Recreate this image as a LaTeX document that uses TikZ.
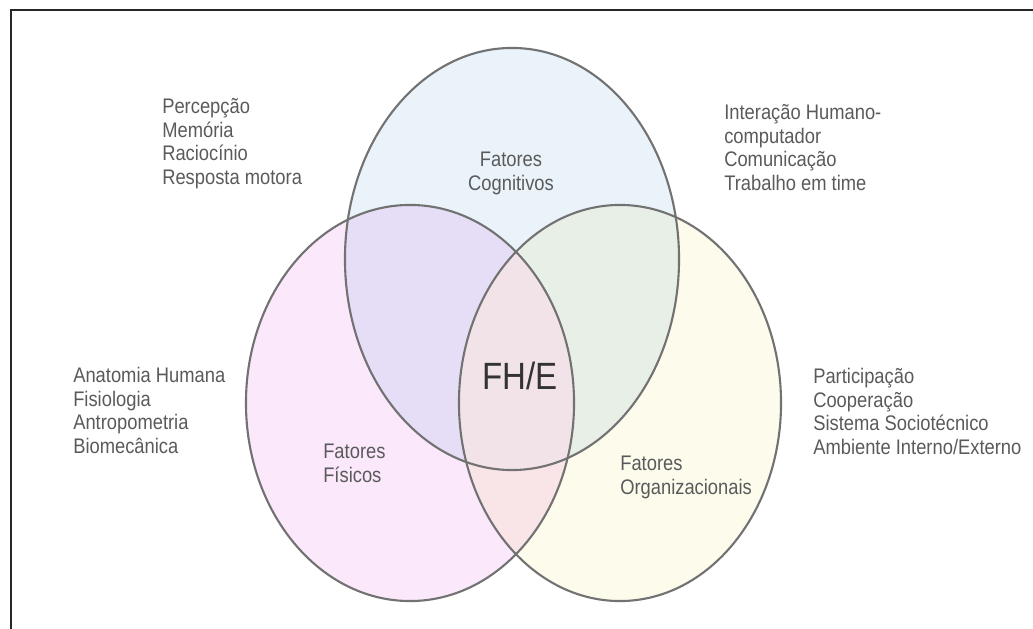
\documentclass[tikz,border=0pt]{standalone}
\usepackage{fontspec}
\newfontfamily\narrowsans[FakeStretch=0.87]{Liberation Sans}
\definecolor{cogfill}{HTML}{EAF3FA}
\definecolor{fisfill}{HTML}{FBE8FB}
\definecolor{orgfill}{HTML}{FDFBEC}
\definecolor{corefill}{HTML}{F2E3E9}
\definecolor{rimgray}{HTML}{727272}
\definecolor{txtgray}{HTML}{5A5A5A}

\begin{document}
\begin{tikzpicture}[
        x=0.025cm, y=-0.025cm,
        topic/.style={anchor=north west, inner sep=0pt, align=left, text=txtgray, font=\narrowsans\fontsize{15}{16.8}\selectfont},
        factor/.style={topic},
        rim/.style={draw=rimgray, line width=1.5pt}
        ]
        \useasboundingbox (0,0) rectangle (1033,629);
        \draw[line width=1.6pt, black!85] (1033,10) -- (11,10) -- (11,629);

        % circle fills
        \begin{scope}[blend group=multiply]
            \fill[cogfill] (512,259) ellipse [x radius=4.175cm, y radius=5.275cm];
            \fill[fisfill] (410,403) ellipse [x radius=4.1cm, y radius=4.95cm];
            \fill[orgfill] (620,403) ellipse [x radius=4.025cm, y radius=4.95cm];
        \end{scope}
        \begin{scope}
            \clip (512,259) ellipse [x radius=4.175cm, y radius=5.275cm];
            \clip (410,403) ellipse [x radius=4.1cm, y radius=4.95cm];
            \fill[corefill] (620,403) ellipse [x radius=4.025cm, y radius=4.95cm];
        \end{scope}
        \draw[rim] (512,259) ellipse [x radius=4.175cm, y radius=5.275cm];
        \draw[rim] (410,403) ellipse [x radius=4.1cm, y radius=4.95cm];
        \draw[rim] (620,403) ellipse [x radius=4.025cm, y radius=4.95cm];

        % factor labels
        \node[factor, anchor=north, align=center] (cognitivos) at (511,152) {Fatores\\Cognitivos};
        \node[factor] (fisicos) at (323,444) {Fatores\\Físicos};
        \node[factor] (organizacionais) at (620,456) {Fatores\\Organizacionais};
        \node[anchor=base, inner sep=0pt, text=black!80, font=\narrowsans\fontsize{27}{30}\selectfont] (fhe) at (520,390) {FH/E};

        % topics
        \node[topic] (cogtopics) at (162,98) {Percepção\\Memória\\Raciocínio\\Resposta motora};
        \node[topic] (comtopics) at (724,104) {Interação Humano-\\computador\\Comunicação\\Trabalho em time};
        \node[topic] (fistopics) at (73,367) {Anatomia Humana\\Fisiologia\\Antropometria\\Biomecânica};
        \node[topic] (orgtopics) at (813,368) {Participação\\Cooperação\\Sistema Sociotécnico\\Ambiente Interno/Externo};
    \end{tikzpicture}
\end{document}
